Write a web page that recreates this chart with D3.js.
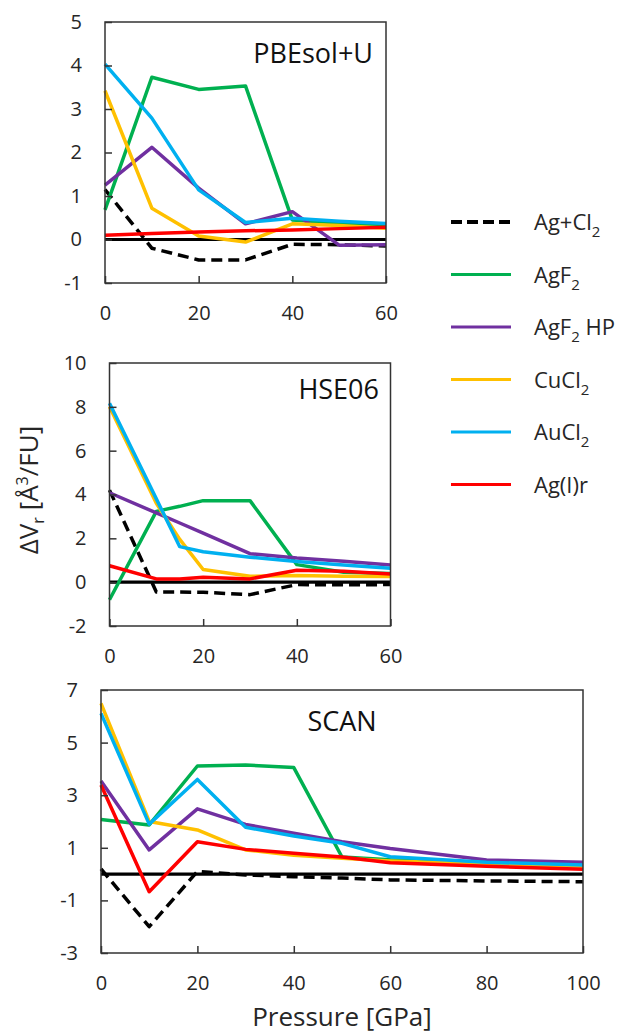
<!DOCTYPE html>
<html>
<head>
<meta charset="utf-8">
<script src="https://cdn.jsdelivr.net/npm/d3@7"></script>
<style>
  html, body { margin: 0; padding: 0; background: #fff; }
  svg { display: block; font-family: "Open Sans", "Noto Sans", sans-serif; }
</style>
</head>
<body>
<div id="chart"></div>
<script>
// Pressure points (GPa) for each panel
var pressTop = [0, 10, 20, 30, 40, 50, 60];
var pressMid = [0, 10, 15, 20, 30, 40, 50, 60];
var pressBot = [0, 10, 20, 30, 40, 50, 60, 80, 100];

// Series names, colours and legend labels (base, subscript, rest)
var seriesNames  = ["Ag+Cl2", "AgF2", "AgF2 HP", "CuCl2", "AuCl2", "Ag(I)r"];
var seriesColors = ["#000000", "#00B050", "#7030A0", "#FFC000", "#00B0F0", "#FF0000"];
var legendParts  = [["Ag+Cl", "2", ""], ["AgF", "2", ""], ["AgF", "2", " HP"],
                    ["CuCl", "2", ""], ["AuCl", "2", ""], ["Ag(I)r", "", ""]];

// PBEsol+U panel
var pbeAgCl2  = [1.15, -0.2, -0.47, -0.47, -0.11, -0.12, -0.15];
var pbeAgF2   = [0.68, 3.73, 3.45, 3.53, 0.45, 0.38, 0.33];
var pbeAgF2HP = [1.25, 2.12, 1.18, 0.36, 0.64, -0.13, -0.12];
var pbeCuCl2  = [3.42, 0.72, 0.08, -0.06, 0.36, 0.32, 0.26];
var pbeAuCl2  = [4.03, 2.79, 1.14, 0.39, 0.49, 0.42, 0.37];
var pbeAgIr   = [0.1, 0.14, 0.17, 0.2, 0.22, 0.25, 0.28];

// HSE06 panel
var hseAgCl2  = [4.2, -0.45, -0.45, -0.46, -0.57, -0.11, -0.12, -0.11];
var hseAgF2   = [-0.8, 3.23, 3.46, 3.72, 3.72, 0.8, 0.45, 0.4];
var hseAgF2HP = [4.08, 3.16, 2.7, 2.24, 1.3, 1.1, 0.95, 0.78];
var hseCuCl2  = [8.0, 3.6, 1.95, 0.58, 0.27, 0.3, 0.27, 0.26];
var hseAuCl2  = [8.16, 3.8, 1.62, 1.39, 1.14, 0.94, 0.78, 0.63];
var hseAgIr   = [0.75, 0.15, 0.15, 0.22, 0.15, 0.54, 0.5, 0.37];

// SCAN panel
var scanAgCl2  = [0.2, -2.0, 0.1, -0.03, -0.1, -0.15, -0.22, -0.26, -0.29];
var scanAgF2   = [2.08, 1.87, 4.11, 4.15, 4.05, 0.65, 0.55, 0.45, 0.35];
var scanAgF2HP = [3.54, 0.92, 2.48, 1.89, 1.55, 1.23, 0.97, 0.54, 0.45];
var scanCuCl2  = [6.49, 2.0, 1.68, 0.92, 0.72, 0.6, 0.5, 0.38, 0.25];
var scanAuCl2  = [6.11, 1.9, 3.6, 1.78, 1.45, 1.17, 0.66, 0.45, 0.35];
var scanAgIr   = [3.39, -0.67, 1.23, 0.94, 0.79, 0.65, 0.43, 0.3, 0.18];

// Axis ticks
var xTicksShort = [0, 20, 40, 60];
var xTicksLong  = [0, 20, 40, 60, 80, 100];
var yTicksTop   = [-1, 0, 1, 2, 3, 4, 5];
var yTicksMid   = [-2, 0, 2, 4, 6, 8, 10];
var yTicksBot   = [-3, -1, 1, 3, 5, 7];

var W = 629, H = 1034;
var textColor = "#262626";

var svg = d3.select("#chart").append("svg")
    .attr("width", W)
    .attr("height", H);

svg.append("rect").attr("width", W).attr("height", H).attr("fill", "#fff");

var panels = [
  {title: "PBEsol+U", x0: 105, x1: 386, y0: 22, y1: 283, xDom: [0, 60], yDom: [-1, 5],
   xTicks: xTicksShort, yTicks: yTicksTop, press: pressTop,
   data: [pbeAgCl2, pbeAgF2, pbeAgF2HP, pbeCuCl2, pbeAuCl2, pbeAgIr],
   tx: 373, ty: 63, anchor: "end"},
  {title: "HSE06", x0: 109.5, x1: 390.5, y0: 363, y1: 626, xDom: [0, 60], yDom: [-2, 10],
   xTicks: xTicksShort, yTicks: yTicksMid, press: pressMid,
   data: [hseAgCl2, hseAgF2, hseAgF2HP, hseCuCl2, hseAuCl2, hseAgIr],
   tx: 379, ty: 399, anchor: "end"},
  {title: "SCAN", x0: 101, x1: 583, y0: 690, y1: 953, xDom: [0, 100], yDom: [-3, 7],
   xTicks: xTicksLong, yTicks: yTicksBot, press: pressBot,
   data: [scanAgCl2, scanAgF2, scanAgF2HP, scanCuCl2, scanAuCl2, scanAgIr],
   tx: 342, ty: 731, anchor: "middle"}
];

panels.forEach(function(p) {
  var x = d3.scaleLinear().domain(p.xDom).range([p.x0, p.x1]);
  var y = d3.scaleLinear().domain(p.yDom).range([p.y1, p.y0]);
  var g = svg.append("g");

  // zero line
  g.append("line")
      .attr("x1", x(p.xDom[0])).attr("x2", x(p.xDom[1]))
      .attr("y1", y(0)).attr("y2", y(0))
      .attr("stroke", "#000").attr("stroke-width", 3.2);

  // series lines
  var line = d3.line()
      .x(function(d) { return x(d[0]); })
      .y(function(d) { return y(d[1]); });

  p.data.forEach(function(vals, i) {
    var pts = p.press.map(function(px, j) { return [px, vals[j]]; });
    g.append("path")
        .attr("d", line(pts))
        .attr("fill", "none")
        .attr("stroke", seriesColors[i])
        .attr("stroke-width", 3.5)
        .attr("stroke-linejoin", "round")
        .attr("stroke-dasharray", i === 0 ? "11,6" : null);
  });

  // frame
  g.append("rect")
      .attr("x", p.x0).attr("y", p.y0)
      .attr("width", p.x1 - p.x0).attr("height", p.y1 - p.y0)
      .attr("fill", "none").attr("stroke", "#333").attr("stroke-width", 1.5);

  // axes with inward ticks
  var xAxis = g.append("g")
      .attr("transform", "translate(0," + p.y1 + ")")
      .call(d3.axisBottom(x).tickValues(p.xTicks).tickSizeInner(-7).tickSizeOuter(0)
            .tickPadding(23).tickFormat(function(d) { return String(d); }));
  var yAxis = g.append("g")
      .attr("transform", "translate(" + p.x0 + ",0)")
      .call(d3.axisLeft(y).tickValues(p.yTicks).tickSizeInner(-7).tickSizeOuter(0)
            .tickPadding(23).tickFormat(function(d) { return String(d); }));

  [xAxis, yAxis].forEach(function(a) {
    a.select(".domain").remove();
    a.selectAll("line").attr("stroke", "#333").attr("stroke-width", 1.5);
    a.selectAll("text")
        .attr("font-family", "Open Sans, Noto Sans, sans-serif")
        .attr("font-size", 20).attr("fill", textColor);
  });

  // panel title
  g.append("text")
      .attr("x", p.tx).attr("y", p.ty)
      .attr("text-anchor", p.anchor)
      .attr("font-size", 27).attr("fill", "#111")
      .text(p.title);
});

// y-axis label
var yl = svg.append("text")
    .attr("transform", "translate(38,490) rotate(-90)")
    .attr("text-anchor", "middle")
    .attr("font-size", 26).attr("fill", textColor);
yl.append("tspan").text("ΔV");
yl.append("tspan").attr("font-size", 16).attr("dy", 6).text("r");
yl.append("tspan").attr("dy", -6).text(" [Å");
yl.append("tspan").attr("font-size", 16).attr("dy", -10).text("3");
yl.append("tspan").attr("dy", 10).text("/FU]");

// x-axis label
svg.append("text")
    .attr("x", 342).attr("y", 1026)
    .attr("text-anchor", "middle")
    .attr("font-size", 26).attr("fill", textColor)
    .text("Pressure [GPa]");

// legend
var legend = svg.append("g");
seriesNames.forEach(function(name, i) {
  var ly = 222 + i * 52.5;
  legend.append("line")
      .attr("x1", 451).attr("x2", 511)
      .attr("y1", ly).attr("y2", ly)
      .attr("stroke", seriesColors[i])
      .attr("stroke-width", i === 0 ? 4 : 3)
      .attr("stroke-dasharray", i === 0 ? "11,5" : null);
  var t = legend.append("text")
      .attr("x", 534).attr("y", ly + 8)
      .attr("font-size", 22).attr("fill", textColor);
  var parts = legendParts[i];
  t.append("tspan").text(parts[0]);
  if (parts[1]) {
    t.append("tspan").attr("font-size", 15).attr("dy", 7).text(parts[1]);
    if (parts[2]) t.append("tspan").attr("dy", -7).text(parts[2]);
  }
});
</script>
</body>
</html>
